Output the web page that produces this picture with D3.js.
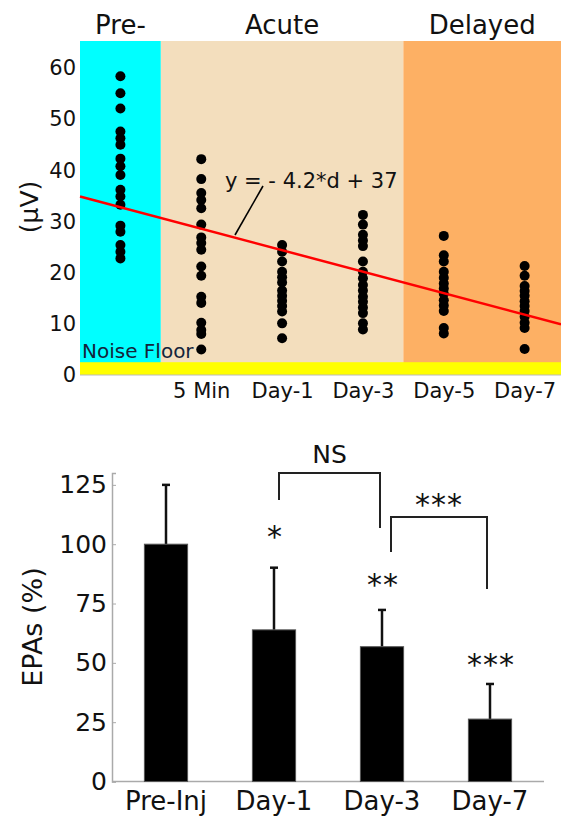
<!DOCTYPE html>
<html>
<head>
<meta charset="utf-8">
<script src="https://cdn.jsdelivr.net/npm/d3@7"></script>
<style>
  body { margin: 0; background: #fff; }
  text { font-family: "DejaVu Sans", sans-serif; fill: #111; }
</style>
</head>
<body>
<script>
// ---- top panel data (uV amplitudes per time point) ----
var timeLabels = ["Pre", "5 Min", "Day-1", "Day-3", "Day-5", "Day-7"];
var preVals   = [58.4, 55.1, 52.1, 47.6, 46.3, 45.0, 42.3, 40.8, 39.1, 36.2, 34.9, 33.3, 29.2, 28.0, 25.4, 24.1, 22.8];
var min5Vals  = [42.2, 38.3, 35.6, 34.2, 32.6, 29.4, 26.9, 25.8, 24.5, 21.2, 19.4, 15.3, 14.1, 10.2, 8.8, 8.0, 5.0];
var day1Vals  = [25.4, 24.1, 22.2, 20.2, 19.1, 18.1, 16.5, 15.5, 14.5, 13.5, 12.4, 10.1, 7.2];
var day3Vals  = [31.3, 29.4, 27.4, 26.3, 25.2, 22.2, 20.2, 18.9, 17.6, 16.5, 15.3, 14.3, 13.2, 12.1, 10.1, 8.9];
var day5Vals  = [27.2, 23.4, 22.2, 20.2, 19.0, 17.9, 16.9, 15.9, 14.6, 13.6, 12.5, 9.2, 8.1];
var day7Vals  = [21.3, 19.4, 17.4, 16.4, 15.5, 14.4, 13.5, 12.5, 11.4, 10.2, 9.2, 5.1];
var phaseNames = ["Pre-", "Acute", "Delayed"];
var phaseStart = [0.5, 1.5, 4.5];
var phaseEnd   = [1.5, 4.5, 6.45];
var phaseColors = ["#00ffff", "#f3debd", "#fdb064"];
var fitSlope = -4.2, fitIntercept = 37;
var noiseFloor = 2.5;
var topTicks = [0, 10, 20, 30, 40, 50, 60];

// ---- bottom panel data (EPAs %) ----
var groups  = ["Pre-Inj", "Day-1", "Day-3", "Day-7"];
var means   = [100, 63.9, 56.8, 26.3];
var errTops = [125, 90.1, 72.3, 41.1];
var stars   = ["", "*", "**", "***"];
var bottomTicks = [0, 25, 50, 75, 100, 125];

var svg = d3.select("body").append("svg")
  .attr("width", 561)
  .attr("height", 819);

// ================= top scatter =================
var x = d3.scaleLinear().domain([0.5, 6.45]).range([80, 561]);
var y = d3.scaleLinear().domain([0, 65.3]).range([375, 41]);

var topG = svg.append("g");

// phase background bands
phaseNames.forEach(function(name, i) {
  topG.append("rect")
    .attr("x", x(phaseStart[i]))
    .attr("y", y(65.3))
    .attr("width", x(phaseEnd[i]) - x(phaseStart[i]))
    .attr("height", y(0) - y(65.3))
    .attr("fill", phaseColors[i]);
  topG.append("text")
    .attr("x", i == 0 ? x(1) : (x(phaseStart[i]) + x(phaseEnd[i])) / 2)
    .attr("y", 34)
    .attr("text-anchor", "middle")
    .style("font-size", "26px")
    .text(name);
});

// noise floor band
topG.append("rect")
  .attr("x", x(0.5))
  .attr("y", y(noiseFloor))
  .attr("width", x(6.45) - x(0.5))
  .attr("height", y(0) - y(noiseFloor))
  .attr("fill", "#ffff00");
topG.append("line")
  .attr("x1", x(0.5)).attr("x2", x(6.45))
  .attr("y1", y(0)).attr("y2", y(0))
  .attr("stroke", "#bbb").attr("stroke-width", 1);
topG.append("text")
  .attr("x", 82)
  .attr("y", 358)
  .style("font-size", "20px")
  .style("fill", "#14243a")
  .text("Noise Floor");

// y ticks
var yAxis = d3.axisLeft(y).tickValues(topTicks).tickSize(0).tickPadding(4);
var gy = topG.append("g").attr("transform", "translate(80,0)").call(yAxis);
gy.select(".domain").remove();
gy.selectAll("text").style("font-size", "21px").style("font-family", "DejaVu Sans, sans-serif").attr("fill", "#111");

// x tick labels (no label under Pre)
var xAxis = d3.axisBottom(x).tickValues([2, 3, 4, 5, 6])
  .tickFormat(function(d) { return timeLabels[d - 1]; })
  .tickSize(0).tickPadding(8);
var gx = topG.append("g").attr("transform", "translate(0,375)").call(xAxis);
gx.select(".domain").remove();
gx.selectAll("text").style("font-size", "21px").style("font-family", "DejaVu Sans, sans-serif").attr("fill", "#111");

// y label
topG.append("text")
  .attr("transform", "translate(38,207) rotate(-90)")
  .attr("text-anchor", "middle")
  .style("font-size", "25px")
  .text("(\u03bcV)");

// dots
var columns = [preVals, min5Vals, day1Vals, day3Vals, day5Vals, day7Vals];
var points = [];
columns.forEach(function(vals, i) {
  vals.forEach(function(v) { points.push({ d: i + 1, v: v }); });
});
topG.selectAll(".dot")
  .data(points).enter()
  .append("circle")
  .attr("class", "dot")
  .attr("cx", function(p) { return x(p.d); })
  .attr("cy", function(p) { return y(p.v); })
  .attr("r", 5)
  .attr("fill", "#000");

// regression line
var fit = d3.line()
  .x(function(d) { return x(d); })
  .y(function(d) { return y(fitSlope * d + fitIntercept); });
topG.append("path")
  .datum([0.5, 6.45])
  .attr("d", fit)
  .attr("fill", "none")
  .attr("stroke", "#ff0000")
  .attr("stroke-width", 2.5);

// equation with leader line
topG.append("line")
  .attr("x1", 263).attr("y1", 186)
  .attr("x2", 235).attr("y2", 235)
  .attr("stroke", "#000").attr("stroke-width", 1.6);
topG.append("text")
  .attr("x", 225)
  .attr("y", 188)
  .style("font-size", "21px")
  .text("y = - 4.2*d + 37");

// ================= bottom bars =================
var xb = d3.scaleBand().domain(groups).range([112, 544]).paddingInner(0.6).paddingOuter(0.3);
var yb = d3.scaleLinear().domain([0, 130]).range([781.5, 473]);

var bot = svg.append("g");

var yAxisB = d3.axisRight(yb).tickValues(bottomTicks).tickSize(4);
var gyb = bot.append("g").attr("transform", "translate(112,0)").call(yAxisB);
gyb.select(".domain").attr("stroke", "#aaa").attr("stroke-width", 1.5);
gyb.selectAll(".tick line").attr("stroke", "#aaa");
gyb.selectAll("text")
  .attr("x", -5)
  .attr("text-anchor", "end")
  .style("font-size", "25px")
  .style("font-family", "DejaVu Sans, sans-serif")
  .attr("fill", "#111");

bot.append("line")
  .attr("x1", 112).attr("x2", 544)
  .attr("y1", yb(0)).attr("y2", yb(0))
  .attr("stroke", "#aaa").attr("stroke-width", 1.5);

var xAxisB = d3.axisBottom(xb).tickSize(0).tickPadding(10);
var gxb = bot.append("g").attr("transform", "translate(0," + yb(0) + ")").call(xAxisB);
gxb.select(".domain").remove();
gxb.selectAll("text").style("font-size", "26px").style("font-family", "DejaVu Sans, sans-serif").attr("fill", "#111");

bot.append("text")
  .attr("transform", "translate(42,627) rotate(-90)")
  .attr("text-anchor", "middle")
  .style("font-size", "27px")
  .text("EPAs (%)");

// error bars (upper only)
groups.forEach(function(g, i) {
  var cx = xb(g) + xb.bandwidth() / 2;
  bot.append("line")
    .attr("x1", cx).attr("x2", cx)
    .attr("y1", yb(means[i])).attr("y2", yb(errTops[i]))
    .attr("stroke", "#111").attr("stroke-width", 2.5);
  bot.append("line")
    .attr("x1", cx - 4).attr("x2", cx + 4)
    .attr("y1", yb(errTops[i])).attr("y2", yb(errTops[i]))
    .attr("stroke", "#111").attr("stroke-width", 2.5);
});

bot.selectAll(".bar")
  .data(groups).enter()
  .append("rect")
  .attr("class", "bar")
  .attr("x", function(g) { return xb(g); })
  .attr("y", function(g, i) { return yb(means[i]); })
  .attr("width", xb.bandwidth())
  .attr("height", function(g, i) { return yb(0) - yb(means[i]); })
  .attr("fill", "#000")
  .attr("stroke", "#555")
  .attr("stroke-width", 1);

// significance stars above bars
var starY = [0, 530, 578, 658];
groups.forEach(function(g, i) {
  if (!stars[i]) return;
  bot.append("text")
    .attr("x", xb(g) + xb.bandwidth() / 2 + 1)
    .attr("y", starY[i] + 17)
    .attr("text-anchor", "middle")
    .style("font-size", "30px")
    .style("letter-spacing", "1px")
    .text(stars[i]);
});

// comparison brackets
function bracket(x1, x2, yTop, yL, yR, label, labelY, labelSize) {
  bot.append("path")
    .attr("d", "M" + x1 + "," + yL + "V" + yTop + "H" + x2 + "V" + yR)
    .attr("fill", "none")
    .attr("stroke", "#222")
    .attr("stroke-width", 2);
  bot.append("text")
    .attr("x", (x1 + x2) / 2)
    .attr("y", labelY)
    .attr("text-anchor", "middle")
    .style("font-size", labelSize)
    .style("letter-spacing", label == "NS" ? "0px" : "1px")
    .text(label);
}
bracket(279, 380, 473, 500, 528, "NS", 463, "25px");
bracket(391, 487, 517, 552, 589, "***", 515, "30px");
</script>
</body>
</html>
